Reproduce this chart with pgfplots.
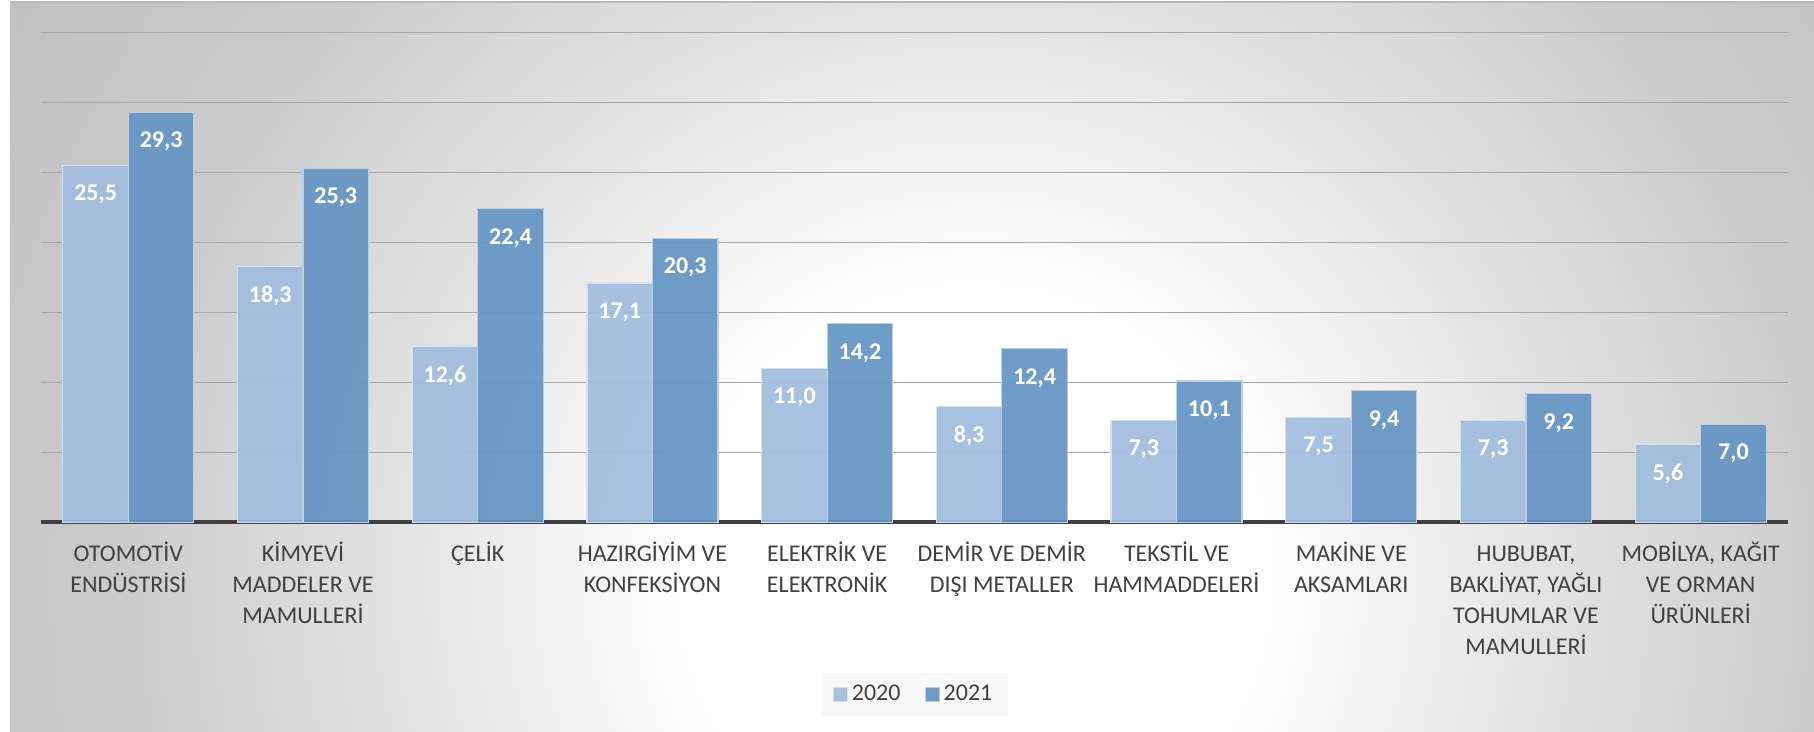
\documentclass[border=0pt]{standalone}
\usepackage{fontspec}
\setmainfont{Carlito}
\usepackage{pgfplots}
\pgfplotsset{compat=1.18}
\definecolor{cA}{HTML}{A1BDDF}
\definecolor{cB}{HTML}{6596C4}
\definecolor{txt}{HTML}{404040}
\definecolor{gridc}{HTML}{A6A6A6}
\definecolor{legbg}{HTML}{F8F8F8}
\definecolor{bgA}{HTML}{E4E4E4}
\definecolor{bgB}{HTML}{CBCBCB}
\definecolor{bgC}{HTML}{BFBFBF}
\pgfdeclareradialshading{bgshade}{\pgfpoint{0bp}{0bp}}{color(0bp)=(white); color(140bp)=(white); color(280bp)=(bgA); color(430bp)=(bgB); color(580bp)=(bgC)}
\begin{document}
\begin{tikzpicture}
\useasboundingbox (0,0) rectangle (907pt,366pt);
\begin{scope}
\clip (5pt,0pt) rectangle (907pt,365pt);
\node[inner sep=0pt,outer sep=0pt] at (487pt,76pt) {\pgfuseshading{bgshade}};
\end{scope}
\draw[color=gray!55, line width=0.8pt] (5pt,365pt) -- (907pt,365pt);
\begin{axis}[
  at={(20.5pt,104.75pt)}, anchor=south west,
  scale only axis, width=873.5pt, height=245pt,
  ybar=0pt,
  xmin=-0.5, xmax=9.5, ymin=0, ymax=35,
  xtick={0,...,9},
  xticklabels={
    {\strut OTOMOTİV\\ENDÜSTRİSİ},
    {\strut KİMYEVİ\\MADDELER VE\\MAMULLERİ},
    {\strut ÇELİK},
    {\strut HAZIRGİYİM VE\\KONFEKSİYON},
    {\strut ELEKTRİK VE\\ELEKTRONİK},
    {\strut DEMİR VE DEMİR\\DIŞI METALLER},
    {\strut TEKSTİL VE\\HAMMADDELERİ},
    {\strut MAKİNE VE\\AKSAMLARI},
    {\strut HUBUBAT,\\BAKLİYAT, YAĞLI\\TOHUMLAR VE\\MAMULLERİ},
    {\strut MOBİLYA, KAĞIT\\VE ORMAN\\ÜRÜNLERİ}},
  xticklabel style={align=center, font=\fontsize{12}{15.5}\selectfont, text=txt, anchor=north, inner sep=0pt, yshift=-4.3pt},
  xtick style={draw=none}, ytick style={draw=none},
  ytick={5,10,...,35}, yticklabels={},
  ymajorgrids, major grid style={draw=gridc, line width=0.75pt},
  extra y ticks={0}, extra y tick labels={},
  extra y tick style={grid=major, major grid style={draw=txt, line width=2pt}},
  axis line style={draw=none},
  bar width=0.375,
  nodes near coords={\bfseries\pgfmathprintnumber{\pgfplotspointmeta}},
  nodes near coords style={font=\fontsize{12}{14}\selectfont\bfseries, text=white, text opacity=1, anchor=north, inner sep=0pt, yshift=-9.5pt, /pgf/number format/.cd, fixed, fixed zerofill, precision=1, use comma, assume math mode=true},
  legend style={at={(0.5,-0.351)}, anchor=center, fill=legbg, draw=none, legend columns=2, font=\fontsize{12}{14}\selectfont, text=txt, inner xsep=6pt, inner ysep=4pt, /tikz/every even column/.append style={column sep=10pt}},
  legend image code/.code={\fill[#1] (0pt,-3.5pt) rectangle (7pt,3.5pt);},
  clip=false,
]
\addplot[bar shift=-0.1875, fill=cA, fill opacity=0.93, draw=white!55!cA, line width=0.6pt] coordinates {(0,25.5) (1,18.3) (2,12.6) (3,17.1) (4,11.0) (5,8.3) (6,7.3) (7,7.5) (8,7.3) (9,5.6)};
\addplot[bar shift=0.1875, fill=cB, fill opacity=0.93, draw=white!55!cB, line width=0.6pt] coordinates {(0,29.3) (1,25.3) (2,22.4) (3,20.3) (4,14.2) (5,12.4) (6,10.1) (7,9.4) (8,9.2) (9,7.0)};
\legend{2020,2021}
\end{axis}
\end{tikzpicture}
\end{document}
